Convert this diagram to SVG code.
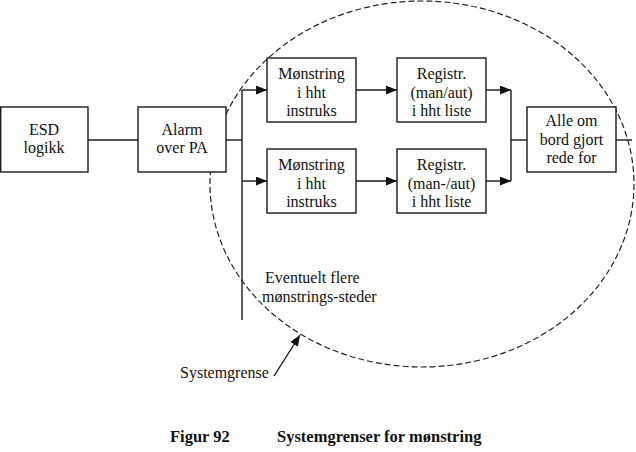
<svg xmlns="http://www.w3.org/2000/svg" width="636" height="452" viewBox="0 0 636 452">
<defs>
<style>
.box{fill:#fff;stroke:#1a1a1a;stroke-width:1.4}
.ln{fill:none;stroke:#1a1a1a;stroke-width:1.4}
.t{font-family:"Liberation Serif","Times New Roman",serif;font-size:16px;fill:#111;text-anchor:middle}
.tl{font-family:"Liberation Serif","Times New Roman",serif;font-size:16px;fill:#111}
.cap{font-family:"Liberation Serif","Times New Roman",serif;font-size:16.5px;font-weight:bold;fill:#111}
</style>
<marker id="ah" viewBox="0 0 11 9" refX="11" refY="4.5" markerWidth="11" markerHeight="9" markerUnits="userSpaceOnUse" orient="auto">
<path d="M0,0 L11,4.5 L0,9 Z" fill="#111"/>
</marker>
</defs>
<rect width="636" height="452" fill="#fff"/>
<ellipse id="systemgrense-boundary" cx="422" cy="184" rx="212" ry="183" fill="none" stroke="#222" stroke-width="1.2" stroke-dasharray="6 3"/>
<g id="connectors">
<line class="ln" x1="88" y1="140" x2="138" y2="140"/>
<line class="ln" x1="226" y1="140" x2="242" y2="140"/>
<line class="ln" x1="242" y1="90" x2="242" y2="320"/>
<line class="ln" x1="242" y1="90" x2="267" y2="90" marker-end="url(#ah)"/>
<line class="ln" x1="242" y1="181" x2="267" y2="181" marker-end="url(#ah)"/>
<line class="ln" x1="356" y1="90" x2="397" y2="90" marker-end="url(#ah)"/>
<line class="ln" x1="356" y1="181" x2="397" y2="181" marker-end="url(#ah)"/>
<line class="ln" x1="486" y1="90" x2="511" y2="90" marker-end="url(#ah)"/>
<line class="ln" x1="486" y1="181" x2="511" y2="181" marker-end="url(#ah)"/>
<line class="ln" x1="511" y1="90" x2="511" y2="181"/>
<line class="ln" x1="511" y1="140" x2="527" y2="140"/>
<line class="ln" x1="616" y1="140" x2="632" y2="140"/>
<line class="ln" x1="274" y1="376" x2="300" y2="335" marker-end="url(#ah)"/>
</g>
<g id="esd">
<rect class="box" x="0.7" y="107" width="87.3" height="65"/>
<text class="t" x="44" y="135">ESD</text>
<text class="t" x="44" y="153">logikk</text>
</g>
<g id="alarm">
<rect class="box" x="138" y="107" width="88" height="65"/>
<text class="t" x="182" y="135">Alarm</text>
<text class="t" x="182" y="153">over PA</text>
</g>
<g id="monstring1">
<rect class="box" x="267" y="58" width="89" height="64"/>
<text class="t" x="311.5" y="79">Mønstring</text>
<text class="t" x="311.5" y="98">i hht</text>
<text class="t" x="311.5" y="116">instruks</text>
</g>
<g id="monstring2">
<rect class="box" x="267" y="149" width="89" height="64"/>
<text class="t" x="311.5" y="170">Mønstring</text>
<text class="t" x="311.5" y="189">i hht</text>
<text class="t" x="311.5" y="207">instruks</text>
</g>
<g id="registr1">
<rect class="box" x="397" y="58" width="89" height="64"/>
<text class="t" x="441.5" y="79">Registr.</text>
<text class="t" x="441.5" y="98">(man/aut)</text>
<text class="t" x="441.5" y="116">i hht liste</text>
</g>
<g id="registr2">
<rect class="box" x="397" y="149" width="89" height="64"/>
<text class="t" x="441.5" y="170">Registr.</text>
<text class="t" x="441.5" y="189">(man-/aut)</text>
<text class="t" x="441.5" y="207">i hht liste</text>
</g>
<g id="alle">
<rect class="box" x="527" y="107" width="89" height="65"/>
<text class="t" x="571.5" y="126">Alle om</text>
<text class="t" x="571.5" y="145">bord gjort</text>
<text class="t" x="571.5" y="163">rede for</text>
</g>
<g id="labels">
<text class="tl" x="265" y="283">Eventuelt flere</text>
<text class="tl" x="262" y="302">mønstrings-steder</text>
<text class="tl" x="180" y="378">Systemgrense</text>
<text class="cap" x="170" y="442">Figur 92</text>
<text class="cap" x="277" y="442">Systemgrenser for mønstring</text>
</g>
</svg>
